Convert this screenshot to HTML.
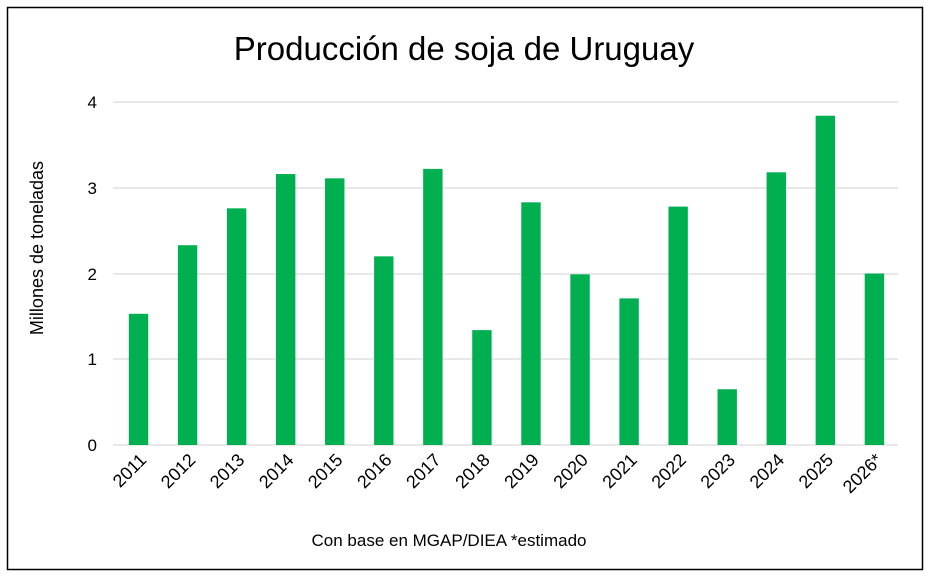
<!DOCTYPE html>
<html><head><meta charset="utf-8"><style>body{margin:0;background:#fff}</style></head><body>
<svg width="931" height="577" xmlns="http://www.w3.org/2000/svg" font-family="Liberation Sans, Carlito, sans-serif">
<rect x="0" y="0" width="931" height="577" fill="#fff"/>
<rect x="7.5" y="7.5" width="915" height="562" fill="#fff" stroke="#000" stroke-width="1.5"/>
<text x="464" y="60" font-size="33" text-anchor="middle" fill="#000">Producción de soja de Uruguay</text>
<g stroke="#d9d9d9" stroke-width="1.3">
<line x1="113" x2="898" y1="102" y2="102"/><line x1="113" x2="898" y1="188" y2="188"/>
<line x1="113" x2="898" y1="274" y2="274"/><line x1="113" x2="898" y1="359" y2="359"/>
<line x1="113" x2="898" y1="445" y2="445"/></g>
<g font-size="17" text-anchor="end" fill="#000">
<text x="97" y="108">4</text><text x="97" y="194">3</text><text x="97" y="280">2</text><text x="97" y="365">1</text><text x="97" y="451">0</text></g>
<text transform="translate(43,248) rotate(-90)" font-size="18" text-anchor="middle">Millones de toneladas</text>
<g fill="#00b050" id="bars"></g>
<g id="labels" font-size="18" fill="#000"></g>
<text x="449" y="546" font-size="17" text-anchor="middle">Con base en MGAP/DIEA *estimado</text>
<script>
var v=[1.53,2.33,2.76,3.16,3.11,2.2,3.22,1.34,2.83,1.99,1.71,2.78,0.65,3.18,3.84,2.0];
var l=["2011","2012","2013","2014","2015","2016","2017","2018","2019","2020","2021","2022","2023","2024","2025","2026*"];
var b=document.getElementById('bars'),t=document.getElementById('labels'),ns="http://www.w3.org/2000/svg";
for(var i=0;i<16;i++){var c=138.5+i*49.06,h=v[i]*85.75;
var r=document.createElementNS(ns,'rect');r.setAttribute('x',c-9.7);r.setAttribute('width',19.4);r.setAttribute('y',445-h);r.setAttribute('height',h);b.appendChild(r);
var x=document.createElementNS(ns,'text');x.setAttribute('text-anchor','end');x.setAttribute('transform','translate('+(c+9)+',461) rotate(-45)');x.textContent=l[i];t.appendChild(x);}
</script>
</svg>
</body></html>
